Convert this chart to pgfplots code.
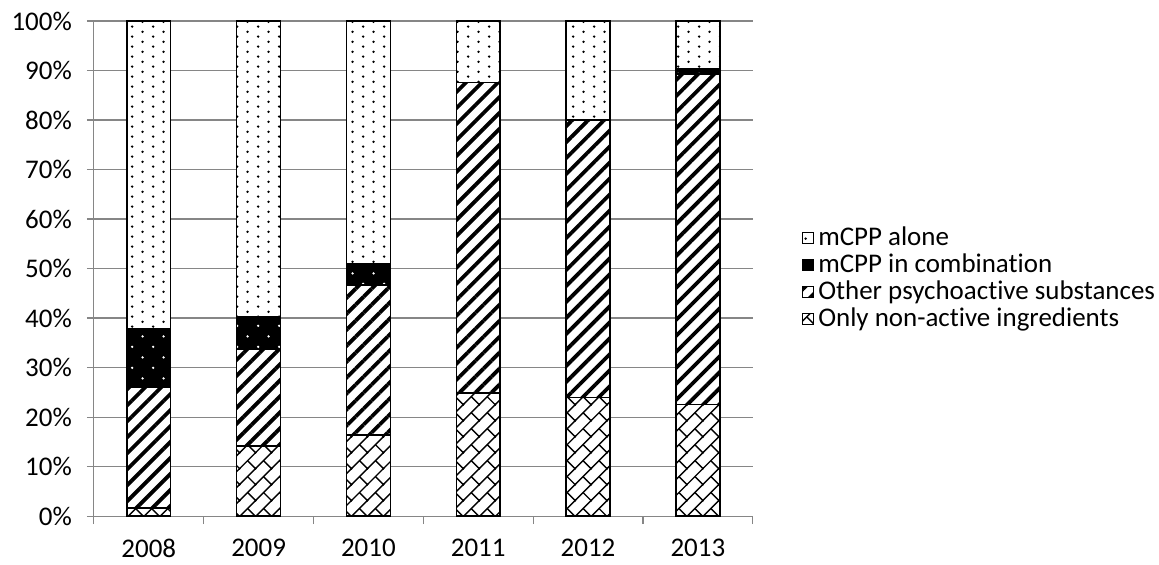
\documentclass[border=0pt]{standalone}
\usepackage{pgfplots}
\pgfplotsset{compat=1.18}
\usepackage{fontspec}
\setmainfont{Carlito}[Ligatures=NoCommon]
\usetikzlibrary{patterns,patterns.meta}

\tikzdeclarepattern{
  name=sparsedots,
  type=uncolored,
  bounding box={(0pt,0pt) and (10.7pt,5.15pt)},
  tile size={(10.7pt,5.15pt)},
  code={
    \fill (2.67pt,1.29pt) circle (0.7pt);
    \fill (8.02pt,3.86pt) circle (0.7pt);
  }
}
\tikzdeclarepattern{
  name=blackdots,
  type=uncolored,
  bounding box={(0pt,0pt) and (10.7pt,10.7pt)},
  tile size={(10.7pt,10.7pt)},
  code={
    \fill (2.67pt,2.67pt) circle (0.65pt);
    \fill (8.02pt,8.02pt) circle (0.65pt);
  }
}
\tikzdeclarepattern{
  name=bricks,
  type=uncolored,
  bounding box={(-0.5pt,-0.5pt) and (8.5pt,8.5pt)},
  tile size={(8pt,8pt)},
  code={
    \draw[line width=0.7pt] (-0.5pt,-0.5pt) -- (8.5pt,8.5pt);
    \draw[line width=0.7pt] (8.3pt,-0.3pt) -- (4pt,4pt);
  }
}

\definecolor{gridgray}{RGB}{134,134,134}

\begin{document}
\begin{tikzpicture}
\begin{axis}[
  name=ax,
  scale only axis,
  width=330pt, height=248pt,
  ybar stacked,
  bar width=22pt,
  xmin=-0.5, xmax=5.5,
  ymin=0, ymax=100,
  xtick={0,1,2,3,4,5},
  xticklabels={2008,2009,2010,2011,2012,2013},
  minor xtick={-0.5,0.5,1.5,2.5,3.5,4.5,5.5},
  ytick={0,10,20,30,40,50,60,70,80,90,100},
  yticklabels={0\%,10\%,20\%,30\%,40\%,50\%,60\%,70\%,80\%,90\%,100\%},
  axis x line*=bottom,
  axis y line*=left,
  axis line style={draw=gridgray, line width=0.6pt},
  tick align=outside,
  major tick length=3.5pt,
  minor tick length=4pt,
  major x tick style={draw=none},
  minor x tick style={draw=gridgray, line width=0.6pt},
  ytick style={draw=gridgray, line width=0.6pt},
  ymajorgrids,
  grid style={draw=gridgray, line width=0.6pt},
  tick label style={font=\fontsize{13.5}{15}\selectfont},
  xticklabel style={yshift=-4.5pt},
  yticklabel style={xshift=-4pt},
  legend style={draw=none, inner xsep=0pt, at={(1,0.48)}, anchor=west, xshift=24.5pt,
    font=\fontsize{13.5}{15}\selectfont, row sep=-1.4pt,
    /tikz/every even column/.append style={column sep=5pt}},
  legend cell align=left,
  reverse legend,
  legend image code/.code={\draw[#1, draw=black, line width=0.5pt] (0pt,-2.8pt) rectangle (5.6pt,2.8pt);},
]
\addplot[draw=black, line width=0.75pt, fill=white, postaction={pattern=bricks}]
  coordinates {(0,1.7) (1,14.2) (2,16.4) (3,24.9) (4,24.0) (5,22.5)};
\addplot[draw=black, line width=0.75pt, fill=white, postaction={pattern={Lines[angle=45,distance=5.66pt,line width=1.9pt]}}]
  coordinates {(0,24.4) (1,19.5) (2,30.3) (3,62.7) (4,56.0) (5,66.8)};
\addplot[draw=black, line width=0.75pt, fill=black, postaction={pattern=blackdots, pattern color=white}]
  coordinates {(0,11.7) (1,6.6) (2,4.2) (3,0) (4,0) (5,1.1)};
\addplot[draw=black, line width=0.75pt, fill=white, postaction={pattern=sparsedots}]
  coordinates {(0,62.2) (1,59.7) (2,49.1) (3,12.4) (4,20.0) (5,9.6)};
\legend{Only non-active ingredients, Other psychoactive substances, mCPP in combination, mCPP alone}
\end{axis}
\path (ax.south west) ++(-47pt,-23pt) rectangle ++(579.5pt,281.5pt);
\end{tikzpicture}
\end{document}
